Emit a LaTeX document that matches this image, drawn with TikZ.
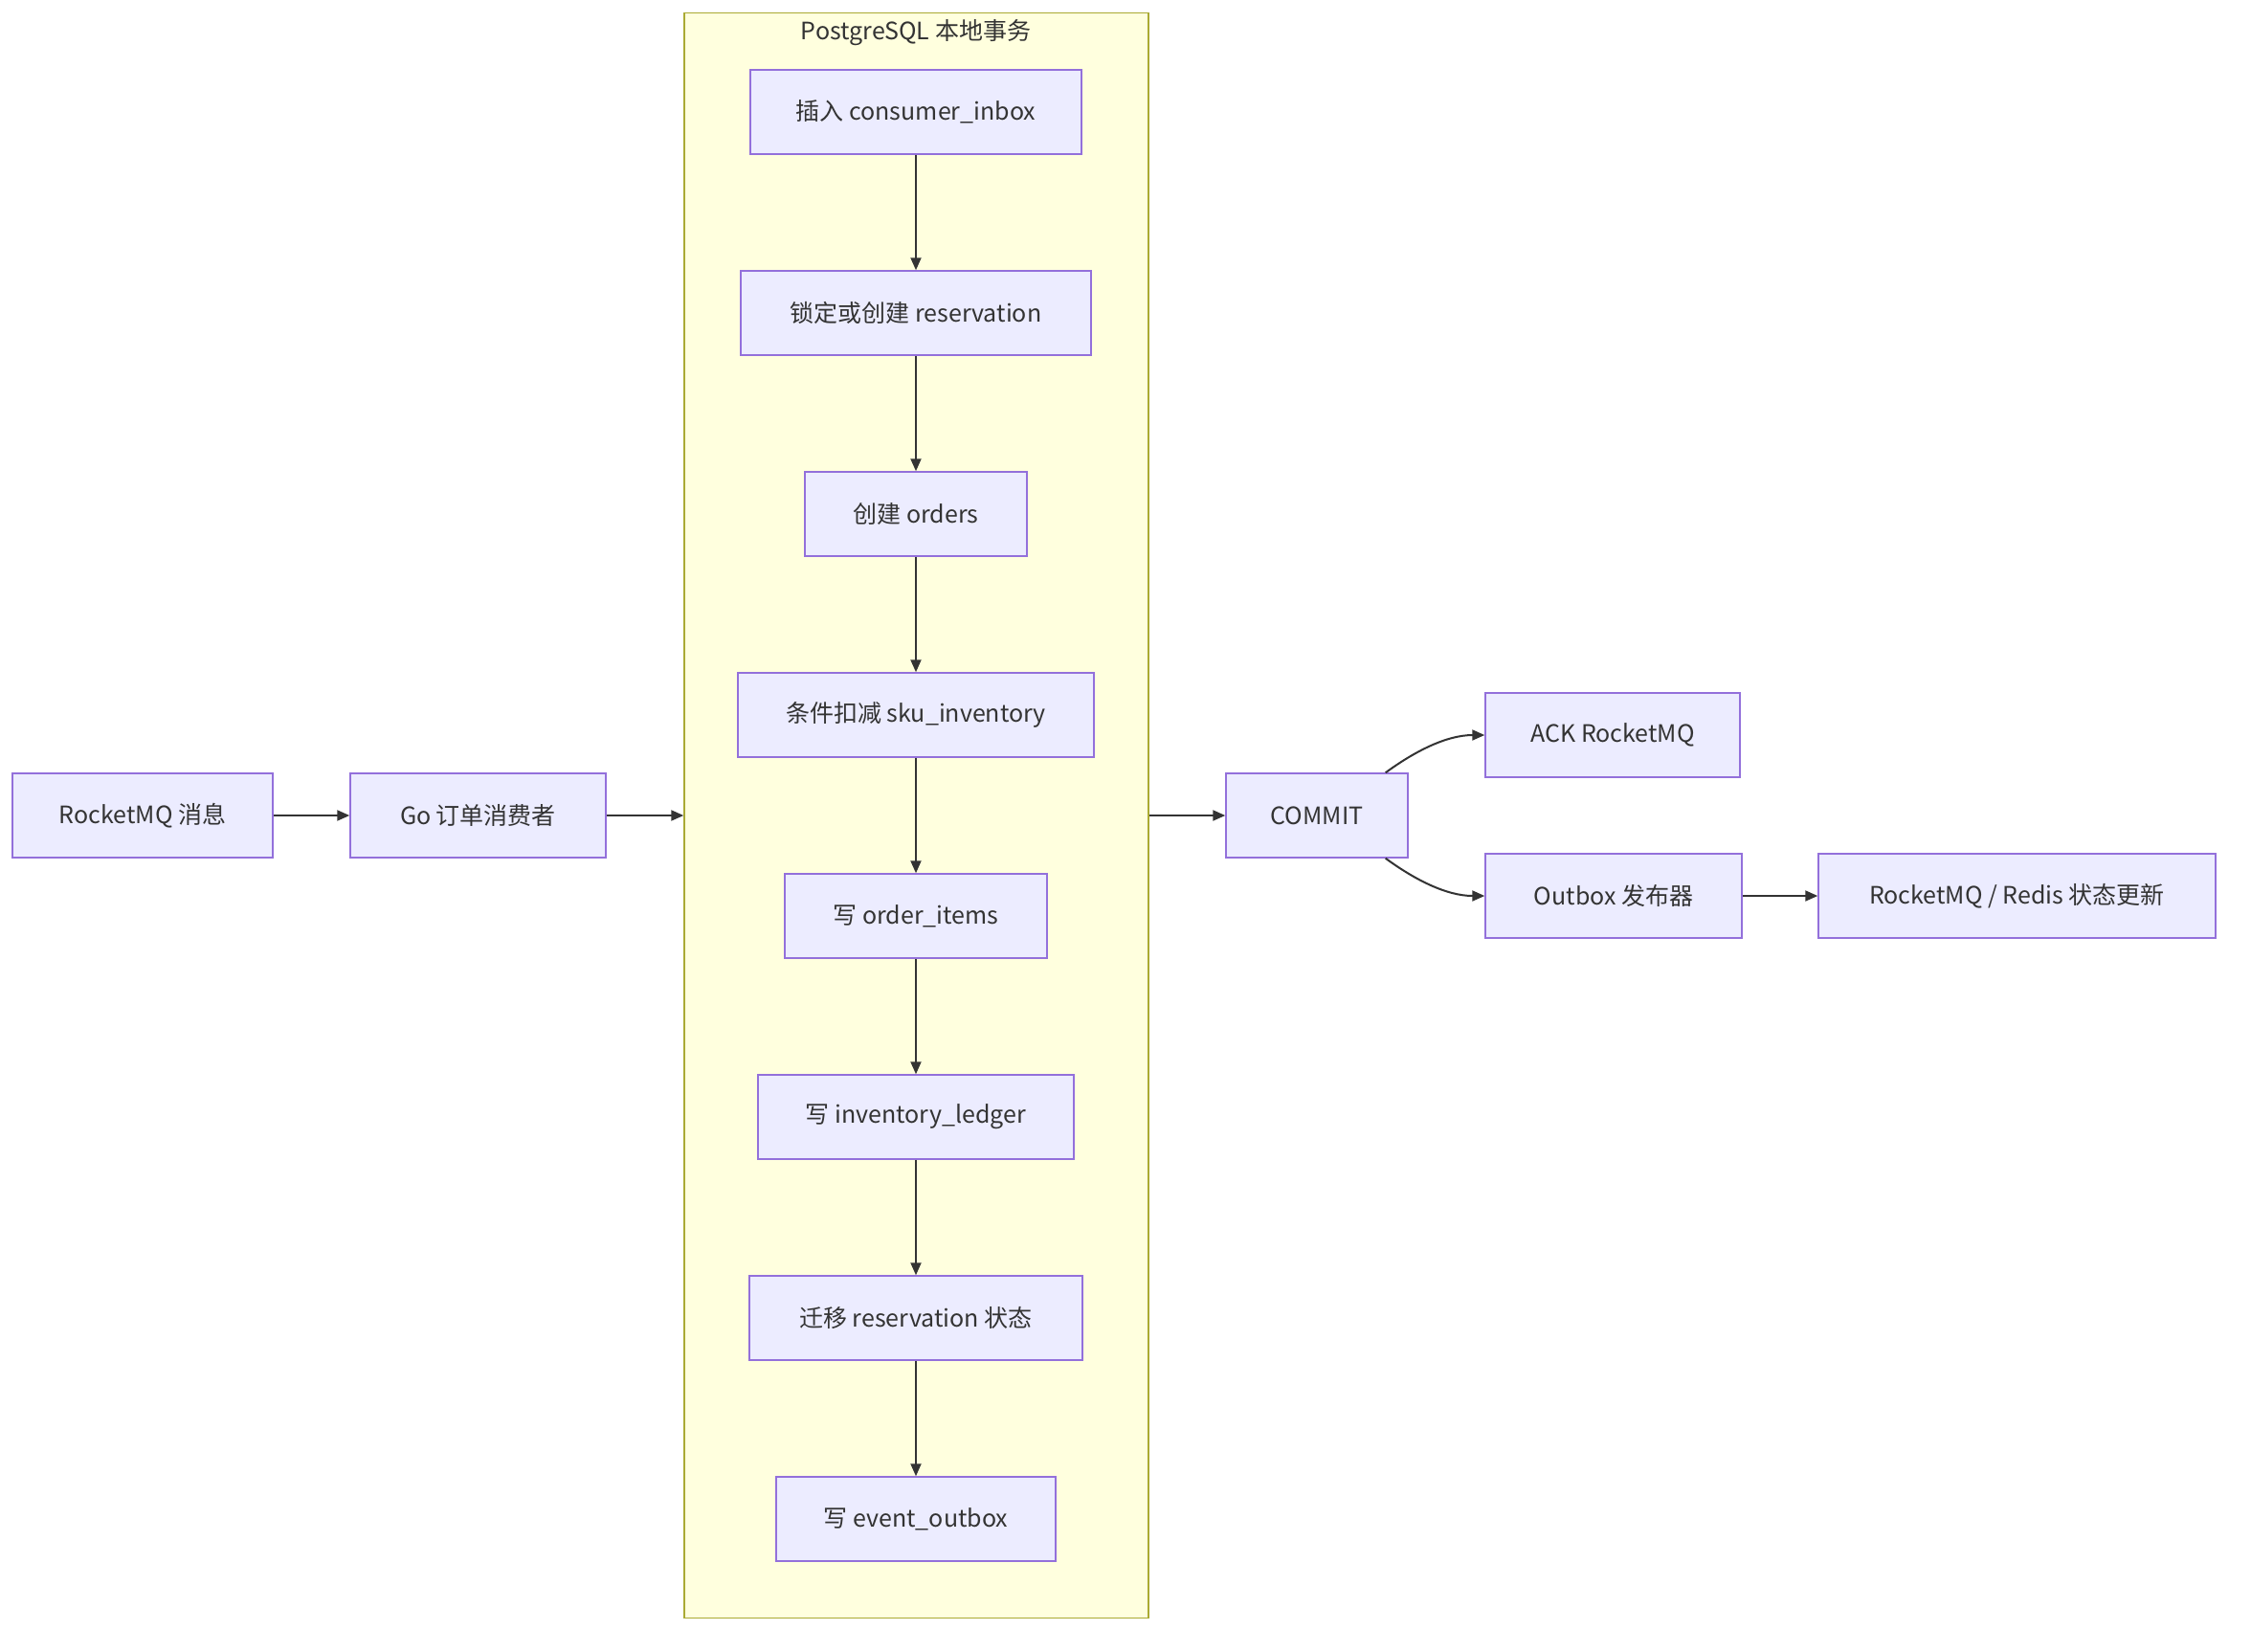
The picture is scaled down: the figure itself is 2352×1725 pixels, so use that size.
\documentclass[tikz,border=0pt]{standalone}
\usepackage{fontspec}
\setmainfont{Noto Sans CJK SC}
\usetikzlibrary{arrows.meta}
\definecolor{boxfill}{HTML}{ECECFF}
\definecolor{boxline}{HTML}{9370DB}
\definecolor{clfill}{HTML}{FFFFDE}
\definecolor{clline}{HTML}{AAAA33}
\definecolor{txt}{HTML}{333333}
\tikzset{
  box/.style={draw=boxline, fill=boxfill, line width=1.5pt, inner sep=0pt, minimum height=88pt, text=txt, font=\fontsize{25}{30}\selectfont},
  cluster/.style={draw=clline, fill=clfill, line width=1.5pt, inner sep=0pt},
  conn/.style={draw=txt, line width=2pt, -{Triangle[length=13pt,width=11pt]}}
}
\begin{document}
\begin{tikzpicture}[x=1pt,y=-1pt]
\useasboundingbox (0,0) rectangle (2352,1725);
\fill[white] (0,0) rectangle (2352,1725);
\node[cluster, minimum width=485pt, minimum height=1677pt] (pg) at (957.5,852) {};
\node[text=txt, font=\fontsize{25}{30}\selectfont] (pgt) at (957,34) {PostgreSQL 本地事务};

\node[box, minimum width=346pt] (n1) at (957,117) {插入 consumer\_inbox};
\node[box, minimum width=366pt] (n2) at (957,327) {锁定或创建 reservation};
\node[box, minimum width=232pt] (n3) at (957,537) {创建 orders};
\node[box, minimum width=372pt] (n4) at (957,747) {条件扣减 sku\_inventory};
\node[box, minimum width=274pt] (n5) at (957,957) {写 order\_items};
\node[box, minimum width=330pt] (n6) at (957,1167) {写 inventory\_ledger};
\node[box, minimum width=348pt] (n7) at (957,1377) {迁移 reservation 状态};
\node[box, minimum width=292pt] (n8) at (957,1587) {写 event\_outbox};

\node[box, minimum width=272pt] (rmq) at (149,852) {RocketMQ 消息};
\node[box, minimum width=267pt] (go) at (499.5,852) {Go 订单消费者};
\node[box, minimum width=190pt] (commit) at (1376,852) {COMMIT};
\node[box, minimum width=266pt] (ack) at (1685,768) {ACK RocketMQ};
\node[box, minimum width=268pt] (outbox) at (1686,936) {Outbox 发布器};
\node[box, minimum width=415pt] (upd) at (2107.5,936) {RocketMQ / Redis 状态更新};

\draw[conn] (n1) -- (n2);
\draw[conn] (n2) -- (n3);
\draw[conn] (n3) -- (n4);
\draw[conn] (n4) -- (n5);
\draw[conn] (n5) -- (n6);
\draw[conn] (n6) -- (n7);
\draw[conn] (n7) -- (n8);

\draw[conn] (rmq) -- (go);
\draw[conn] (go.east) -- (pg.west);
\draw[conn] (pg.east) -- (commit.west);
\draw[conn] ([xshift=-24pt]commit.north east) .. controls +(30,-22) and +(-40,0) .. (ack.west);
\draw[conn] ([xshift=-24pt]commit.south east) .. controls +(30,22) and +(-40,0) .. (outbox.west);
\draw[conn] (outbox) -- (upd);
\end{tikzpicture}
\end{document}
